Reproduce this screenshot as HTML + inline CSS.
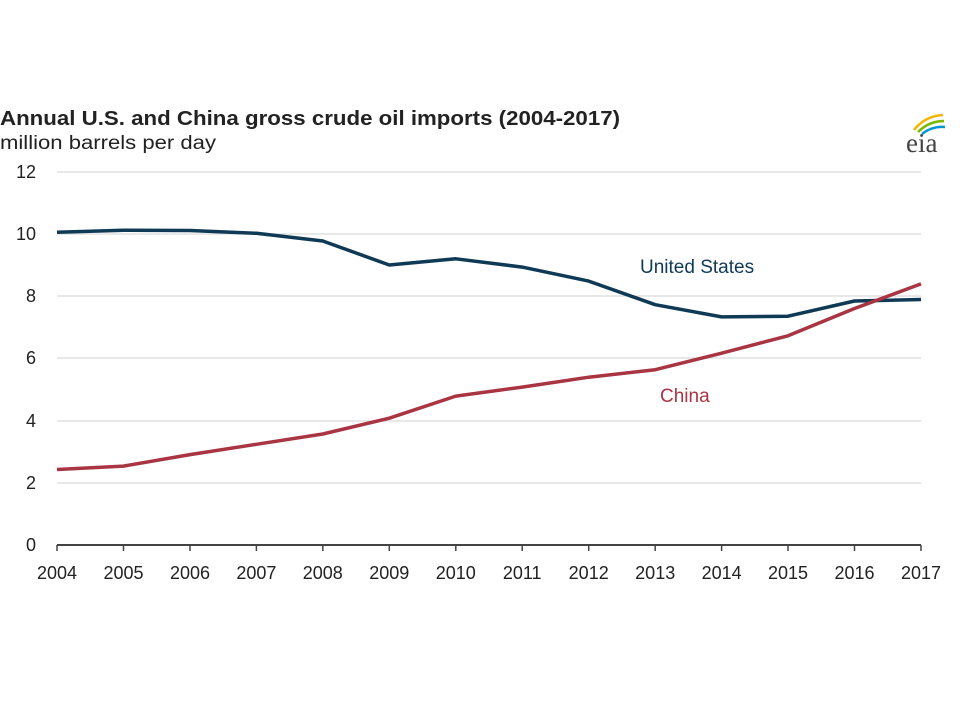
<!DOCTYPE html>
<html><head><style>
body{margin:0;background:#fff;}
svg{display:block;font-family:"Liberation Sans",Arial,sans-serif;}
</style></head><body>
<svg width="960" height="720" viewBox="0 0 960 720">
<text x="0" y="125" font-size="20" font-weight="bold" fill="#222" textLength="620" lengthAdjust="spacingAndGlyphs">Annual U.S. and China gross crude oil imports (2004-2017)</text>
<text x="0" y="149" font-size="19" fill="#222" textLength="216" lengthAdjust="spacingAndGlyphs">million barrels per day</text>
<g font-family="Liberation Serif,serif">
<text x="906" y="152" font-size="27" fill="#444">eia</text>
<path d="M914 130 Q925 116 943 115" stroke="#f2b500" stroke-width="2.5" fill="none"/>
<path d="M918 132 Q929 121 944 121" stroke="#7ab800" stroke-width="2.5" fill="none"/>
<path d="M922 134 Q932 126 945 127" stroke="#0096d6" stroke-width="2.5" fill="none"/>
</g>
<g stroke="#d9d9d9" stroke-width="1.3">
<line x1="57" x2="921" y1="172" y2="172"/><line x1="57" x2="921" y1="234" y2="234"/>
<line x1="57" x2="921" y1="296" y2="296"/><line x1="57" x2="921" y1="358" y2="358"/>
<line x1="57" x2="921" y1="421" y2="421"/><line x1="57" x2="921" y1="483" y2="483"/>
</g>
<line x1="57" x2="921" y1="545" y2="545" stroke="#444" stroke-width="2"/>
<g stroke="#444" stroke-width="1.5">
<line x1="57" x2="57" y1="545" y2="551"/><line x1="123.5" x2="123.5" y1="545" y2="551"/><line x1="190" x2="190" y1="545" y2="551"/><line x1="256.4" x2="256.4" y1="545" y2="551"/><line x1="322.8" x2="322.8" y1="545" y2="551"/><line x1="389.3" x2="389.3" y1="545" y2="551"/><line x1="455.8" x2="455.8" y1="545" y2="551"/><line x1="522.2" x2="522.2" y1="545" y2="551"/><line x1="588.7" x2="588.7" y1="545" y2="551"/><line x1="655.2" x2="655.2" y1="545" y2="551"/><line x1="721.6" x2="721.6" y1="545" y2="551"/><line x1="788" x2="788" y1="545" y2="551"/><line x1="854.5" x2="854.5" y1="545" y2="551"/><line x1="921" x2="921" y1="545" y2="551"/>
</g>
<g font-size="18" fill="#222" text-anchor="end">
<text x="36" y="178">12</text><text x="36" y="240">10</text><text x="36" y="302">8</text><text x="36" y="364">6</text><text x="36" y="427">4</text><text x="36" y="489">2</text><text x="36" y="551">0</text>
</g>
<g font-size="18" fill="#222" text-anchor="middle">
<text x="57" y="579">2004</text><text x="123.5" y="579">2005</text><text x="190" y="579">2006</text><text x="256.4" y="579">2007</text><text x="322.8" y="579">2008</text><text x="389.3" y="579">2009</text><text x="455.8" y="579">2010</text><text x="522.2" y="579">2011</text><text x="588.7" y="579">2012</text><text x="655.2" y="579">2013</text><text x="721.6" y="579">2014</text><text x="788" y="579">2015</text><text x="854.5" y="579">2016</text><text x="921" y="579">2017</text>
</g>
<polyline fill="none" stroke="#0f3a56" stroke-width="3.5" stroke-linejoin="round" points="57,232.3 123.5,230.2 190,230.5 256.4,233.3 322.8,241 389.3,265 455.8,258.8 522.2,267.1 588.7,281.1 655.2,304.7 721.6,316.9 788,316.2 854.5,301 921,299.5"/>
<polyline fill="none" stroke="#a93442" stroke-width="3.5" stroke-linejoin="round" points="57,469.5 123.5,466.1 190,454.6 256.4,444.3 322.8,434 389.3,418.2 455.8,396.1 522.2,387.1 588.7,377.2 655.2,369.7 721.6,353.2 788,335.8 854.5,308.5 921,283.9"/>
<text x="640" y="273" font-size="19" fill="#0f3a56">United States</text>
<text x="660" y="402" font-size="19" fill="#a93442">China</text>
</svg>
</body></html>
